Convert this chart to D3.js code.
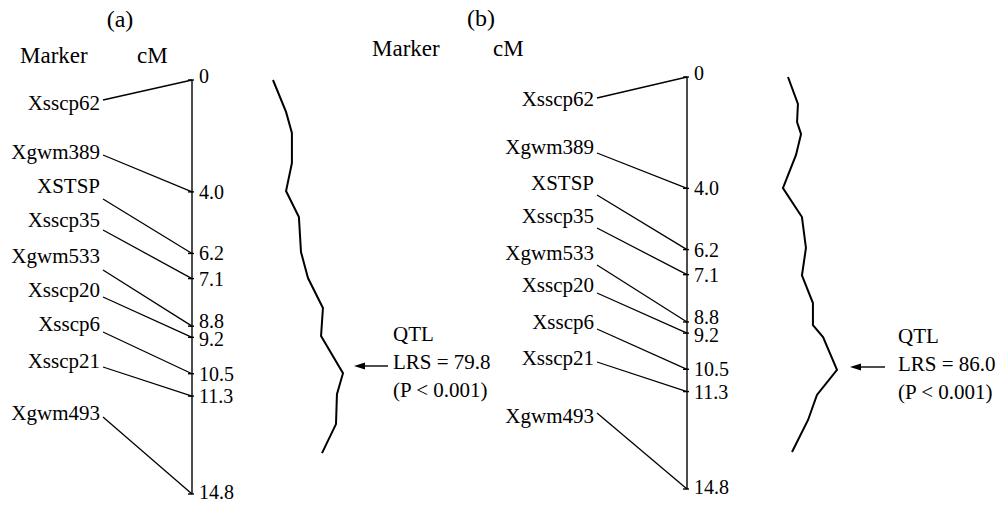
<!DOCTYPE html>
<html>
<head>
<meta charset="utf-8">
<script src="https://cdn.jsdelivr.net/npm/d3@7"></script>
<style>
  body { margin: 0; background: #fff; }
  svg { display: block; font-family: "Liberation Serif", "Times New Roman", serif; }
</style>
</head>
<body>
<svg id="chart" width="998" height="505"></svg>
<script>
// marker names and their map positions (cM), same order on both panels
const markers = ["Xsscp62", "Xgwm389", "XSTSP", "Xsscp35", "Xgwm533", "Xsscp20", "Xsscp6", "Xsscp21", "Xgwm493"];
const positionsCM = [0, 4.0, 6.2, 7.1, 8.8, 9.2, 10.5, 11.3, 14.8];
const tickLabels = ["0", "4.0", "6.2", "7.1", "8.8", "9.2", "10.5", "11.3", "14.8"];

// LRS profiles (position in cM, LRS value)
const qtlCM_a = [0.0, 1.14, 1.89, 2.97, 3.97, 4.90, 6.15, 7.08, 8.15, 9.15, 10.48, 11.23, 12.30, 13.34];
const qtlLRS_a = [42.8, 49.7, 52.8, 52.8, 49.7, 56.5, 57.6, 61.3, 69.2, 68.2, 79.8, 76.6, 76.1, 68.7];
const qtlCM_b = [0.0, 0.97, 1.62, 2.05, 2.80, 3.99, 5.03, 6.14, 7.13, 8.12, 8.91, 9.34, 10.52, 11.42, 12.32, 13.47];
const qtlLRS_b = [57.9, 63.6, 63.1, 65.4, 62.5, 55.0, 65.9, 68.2, 65.9, 72.2, 72.2, 78.0, 86.0, 74.5, 69.4, 60.2];

const panelLetters = ["(a)", "(b)"];
const peakLRS = [79.8, 86.0];
const pValue = "(P < 0.001)";

// layout only
const layouts = [
  {
    axisX: 192, top: 80, bottom: 494, peakX: 343,
    letter: [120, 27], marker: [20, 63], cm: [137, 63],
    labelX: 100, labelY: [110, 159, 193, 227, 263, 297, 331, 368, 420],
    linkY: [100, 155, 199, 230, 270, 297, 332, 367, 417],
    arrow: [388, 354, 366], text: [393, 341]
  },
  {
    axisX: 687, top: 77, bottom: 489, peakX: 837,
    letter: [481, 26], marker: [372, 56], cm: [493, 56],
    labelX: 594, labelY: [106, 154, 190, 223, 260, 292, 329, 365, 423],
    linkY: [98, 153, 195, 228, 265, 293, 329, 362, 413],
    arrow: [885, 850, 367], text: [898, 343]
  }
];
const tickShift = [-4, 0, 0, 0, -5, 2, 0, 0, -2];

const svg = d3.select("#chart");
const profiles = [[qtlCM_a, qtlLRS_a], [qtlCM_b, qtlLRS_b]];

layouts.forEach((p, k) => {
  const g = svg.append("g");
  const y = d3.scaleLinear().domain([0, 14.8]).range([p.top, p.bottom]);
  const x = d3.scaleLinear().domain([0, peakLRS[k]]).range([p.axisX, p.peakX]);

  // headers
  g.append("text").attr("x", p.letter[0]).attr("y", p.letter[1])
    .attr("text-anchor", "middle").style("font-size", "24px").text(panelLetters[k]);
  g.append("text").attr("x", p.marker[0]).attr("y", p.marker[1])
    .style("font-size", "23px").text("Marker");
  g.append("text").attr("x", p.cm[0]).attr("y", p.cm[1])
    .style("font-size", "23px").text("cM");

  // chromosome axis
  g.append("line")
    .attr("x1", p.axisX).attr("x2", p.axisX)
    .attr("y1", y(0)).attr("y2", y(14.8))
    .attr("stroke", "#000").attr("stroke-width", 1.4);

  g.selectAll(".tick").data(positionsCM).enter().append("line")
    .attr("x1", p.axisX - 4).attr("x2", p.axisX + 2)
    .attr("y1", d => y(d)).attr("y2", d => y(d))
    .attr("stroke", "#000").attr("stroke-width", 1.4);

  g.selectAll(".ticklabel").data(positionsCM).enter().append("text")
    .attr("x", p.axisX + 7)
    .attr("y", (d, i) => y(d) + tickShift[i])
    .attr("dy", "0.35em")
    .style("font-size", "20px")
    .text((d, i) => tickLabels[i]);

  // marker labels and connectors
  g.selectAll(".marker").data(markers).enter().append("text")
    .attr("x", p.labelX).attr("y", (d, i) => p.labelY[i])
    .attr("text-anchor", "end").style("font-size", "21px")
    .text(d => d);

  g.selectAll(".link").data(positionsCM).enter().append("line")
    .attr("x1", p.labelX + 3).attr("y1", (d, i) => p.linkY[i])
    .attr("x2", p.axisX).attr("y2", d => y(d))
    .attr("stroke", "#000").attr("stroke-width", 1.3);

  // LRS profile
  const [cm, lrs] = profiles[k];
  const line = d3.line().x(d => x(d[1])).y(d => y(d[0]));
  g.append("path")
    .datum(cm.map((c, i) => [c, lrs[i]]))
    .attr("d", line)
    .attr("fill", "none").attr("stroke", "#000").attr("stroke-width", 2)
    .attr("stroke-linejoin", "miter");

  // arrow + annotation
  const [ax1, ax2, ay] = p.arrow;
  g.append("line").attr("x1", ax1).attr("x2", ax2 + 8).attr("y1", ay).attr("y2", ay)
    .attr("stroke", "#000").attr("stroke-width", 1.4);
  g.append("path")
    .attr("d", `M${ax2},${ay} L${ax2 + 11},${ay - 3.5} L${ax2 + 11},${ay + 3.5} Z`)
    .attr("fill", "#000");

  const lines = ["QTL", `LRS = ${peakLRS[k].toFixed(1)}`, pValue];
  g.selectAll(".qtl").data(lines).enter().append("text")
    .attr("x", p.text[0]).attr("y", (d, i) => p.text[1] + i * 28)
    .style("font-size", "21px")
    .text(d => d);
});
</script>
</body>
</html>
